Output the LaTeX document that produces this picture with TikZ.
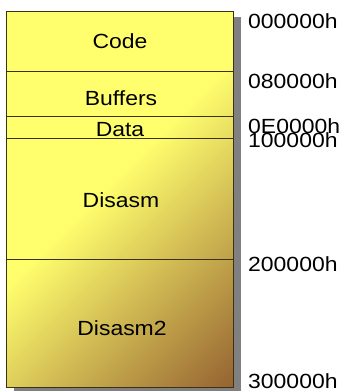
\documentclass[tikz,border=0pt]{standalone}
\usepackage{fontspec}
\setmainfont[FakeStretch=1.12]{Liberation Sans}
\definecolor{topyel}{RGB}{255,255,110}
\definecolor{botbrn}{RGB}{150,100,50}
\definecolor{edge}{RGB}{60,50,15}
\definecolor{shadowgray}{RGB}{128,128,128}
\tikzset{
  seglabel/.style={font=\fontsize{20.5}{20.5}\selectfont, inner sep=0pt, anchor=base},
  addr/.style={font=\fontsize{20.5}{20.5}\selectfont, inner sep=0pt, anchor=base west},
  divider/.style={draw=edge, line width=0.9pt},
}
\begin{document}
\begin{tikzpicture}[x=1pt,y=-1pt]
\useasboundingbox (0,0) rectangle (345,392);
% shadow
\fill[shadowgray] (14,17) rectangle (241,391);
% base fill
\fill[topyel] (6.5,11) rectangle (233.5,387);
% diagonal gradient
\begin{scope}
  \clip (6.5,11) rectangle (233.5,387);
  \foreach \i in {0,...,65}{
    \pgfmathsetmacro{\ca}{290+\i*5}
    \pgfmathsetmacro{\cb}{\ca+5.6}
    \pgfmathsetmacro{\pc}{100*\i/65}
    \fill[botbrn!\pc!topyel] (0,\ca) -- (345,\ca-345) -- (345,\cb-345) -- (0,\cb) -- cycle;
  }
\end{scope}
% outline and dividers
\coordinate (tl) at (6.5,11);
\coordinate (br) at (233.5,387);
\draw[divider] (tl) rectangle (br);
\coordinate (l1) at (6.5,71);  \coordinate (r1) at (233.5,71);
\coordinate (l2) at (6.5,116); \coordinate (r2) at (233.5,116);
\coordinate (l3) at (6.5,138); \coordinate (r3) at (233.5,138);
\coordinate (l4) at (6.5,259); \coordinate (r4) at (233.5,259);
\draw[divider] (l1) -- (r1);
\draw[divider] (l2) -- (r2);
\draw[divider] (l3) -- (r3);
\draw[divider] (l4) -- (r4);
% segment labels
\node[seglabel] (code) at (120,48) {Code};
\node[seglabel] (buf) at (121,105) {Buffers};
\node[seglabel] (data) at (120,136.5) {Data};
\node[seglabel] (dis) at (121,207) {Disasm};
\node[seglabel] (dis2) at (122,335) {Disasm2};
% addresses
\node[addr] (a0) at (248,28) {000000h};
\node[addr] (a1) at (248,88) {080000h};
\node[addr] (a2) at (248,133) {0E0000h};
\node[addr] (a3) at (248,147) {100000h};
\node[addr] (a4) at (248,271) {200000h};
\node[addr] (a5) at (248,388) {300000h};
\end{tikzpicture}
\end{document}
